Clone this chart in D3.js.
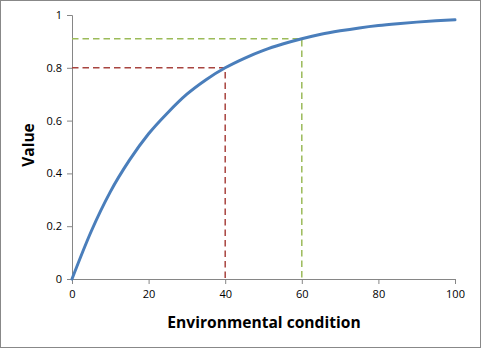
<!DOCTYPE html>
<html>
<head>
<meta charset="utf-8">
<script src="https://cdn.jsdelivr.net/npm/d3@7"></script>
<style>
  html, body { margin: 0; padding: 0; background: #fff; }
  svg { display: block; }
  .tick text { font-family: "Open Sans", "Liberation Sans", sans-serif; font-size: 11px; fill: #000; }
</style>
</head>
<body>
<svg id="chart" width="481" height="348"></svg>
<script>
// Response curve: value against environmental condition
const conditions = [0, 5, 10, 15, 20, 25, 30, 35, 40, 45, 50, 55, 60, 65, 70, 75, 80, 85, 90, 95, 100];
const values = [0, 0.18, 0.33, 0.45, 0.55, 0.63, 0.70, 0.755, 0.80, 0.836, 0.866, 0.89, 0.91, 0.927, 0.94, 0.951, 0.96, 0.967, 0.973, 0.978, 0.982];

// Reference guides: [condition, value]
const guideLow = [40, 0.80];
const guideHigh = [60, 0.91];

const xTicks = [0, 20, 40, 60, 80, 100];
const yTicks = [0, 0.2, 0.4, 0.6, 0.8, 1];

const svg = d3.select("#chart");
const W = 481, H = 348;
const plot = { left: 72, right: 455, top: 15, bottom: 279 };

// Outer frame
svg.append("rect")
  .attr("x", 0.5).attr("y", 0.5)
  .attr("width", W - 1).attr("height", H - 1)
  .attr("fill", "#fff").attr("stroke", "#888").attr("stroke-width", 1);

const x = d3.scaleLinear().domain([0, 100]).range([plot.left, plot.right]);
const y = d3.scaleLinear().domain([0, 1]).range([plot.bottom, plot.top]);

const axisColor = "#868686";

const xAxis = svg.append("g")
  .attr("transform", `translate(0,${plot.bottom})`)
  .call(d3.axisBottom(x).tickValues(xTicks).tickSize(5).tickPadding(6).tickFormat(d3.format("d")));
const yAxis = svg.append("g")
  .attr("transform", `translate(${plot.left},0)`)
  .call(d3.axisLeft(y).tickValues(yTicks).tickSize(5).tickPadding(5).tickFormat(d => d === 0 || d === 1 ? String(d) : d.toFixed(1)));

[xAxis, yAxis].forEach(g => {
  g.select(".domain").attr("stroke", axisColor).attr("stroke-width", 1);
  g.selectAll(".tick line").attr("stroke", axisColor);
});

// Dashed guide lines
function guide(pt, color) {
  const path = d3.path();
  path.moveTo(x(0), y(pt[1]));
  path.lineTo(x(pt[0]), y(pt[1]));
  path.lineTo(x(pt[0]), y(0));
  svg.append("path")
    .attr("d", path.toString())
    .attr("fill", "none")
    .attr("stroke", color)
    .attr("stroke-width", 1.5)
    .attr("stroke-dasharray", "6.5,4");
}
guide(guideLow, "#a8443f");
guide(guideHigh, "#9bbb59");

// Curve
const line = d3.line()
  .x((d, i) => x(conditions[i]))
  .y(d => y(d))
  .curve(d3.curveMonotoneX);

svg.append("path")
  .datum(values)
  .attr("d", line)
  .attr("fill", "none")
  .attr("stroke", "#4a7ebb")
  .attr("stroke-width", 3)
  .attr("stroke-linecap", "round");

// Axis titles
svg.append("text")
  .attr("x", (plot.left + plot.right) / 2 + 0.5)
  .attr("y", 327.5)
  .attr("text-anchor", "middle")
  .attr("font-family", "Open Sans, Liberation Sans, sans-serif")
  .attr("font-weight", "bold")
  .attr("font-size", 15.6)
  .text("Environmental condition");

svg.append("text")
  .attr("transform", `translate(34,${(plot.top + plot.bottom) / 2 - 2}) rotate(-90)`)
  .attr("text-anchor", "middle")
  .attr("font-family", "Open Sans, Liberation Sans, sans-serif")
  .attr("font-weight", "bold")
  .attr("font-size", 15.5)
  .text("Value");
</script>
</body>
</html>
